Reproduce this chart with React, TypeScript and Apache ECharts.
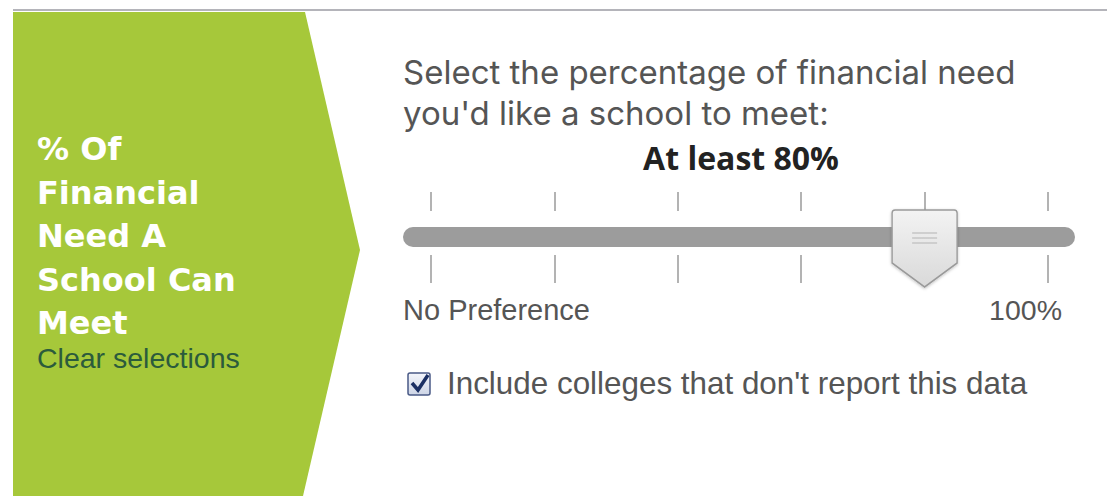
import React, { useEffect, useRef } from "react";
import * as echarts from "echarts";

const headingLines = ["% Of", "Financial", "Need A", "School Can", "Meet"];
const clearLabel = "Clear selections";
const promptLines = ["Select the percentage of financial need", "you'd like a school to meet:"];
const selectedLabel = "At least 80%";
const tickValues = [0, 20, 40, 60, 80, 100];
const selectedValue = 80;
const endLabels = ["No Preference", "100%"];
const checkboxLabel = "Include colleges that don't report this data";

const HANDLE_PATH =
  "path://M3,0 H62 Q65,0 65,3 V53 L32.5,77 L0,53 V3 Q0,0 3,0 Z";
const GRIP_PATH = "path://M0,0H25V1.6H0Z M0,5H25V6.6H0Z M0,10H25V11.6H0Z";

export default function App() {
  const ref = useRef<HTMLDivElement>(null);
  useEffect(() => {
    if (!ref.current) return;
    const chart = echarts.init(ref.current, undefined, { renderer: "svg" });
    const helv = "'Liberation Sans', Arial, sans-serif";
    const museo = "'Open Sans', sans-serif";
    const prompt = "Inter, 'Open Sans', sans-serif";
    const heavy = "'DejaVu Sans', sans-serif";
    const graphics: any[] = [
      {
        type: "line",
        shape: { x1: 13, y1: 10, x2: 1107, y2: 10 },
        style: { stroke: "#b4b4ba", lineWidth: 2 },
        z: 0,
      },
      {
        type: "polygon",
        shape: { points: [[13, 12], [305, 12], [360, 250], [303, 496], [13, 496]] },
        style: { fill: "#a6c83a" },
        z: 1,
      },
      ...headingLines.map((t, i) => ({
        type: "text",
        x: 37,
        y: 149 + i * 43.5,
        style: {
          text: t,
          fill: "#ffffff",
          font: `bold 32px ${heavy}`,
          lineHeight: 36,
          verticalAlign: "middle",
          align: "left",
        },
        z: 2,
      })),
      {
        type: "text",
        x: 37,
        y: 358,
        style: { text: clearLabel, fill: "#2b5b3c", font: `28.5px ${helv}`, verticalAlign: "middle" },
        z: 2,
      },
      ...promptLines.map((t, i) => ({
        type: "text",
        x: 403,
        y: 72 + i * 41,
        style: {
          text: t,
          fill: "#555555",
          font: `33px ${prompt}`,
          lineHeight: 36,
          verticalAlign: "middle",
        },
        z: 2,
      })),
      {
        type: "text",
        x: 741,
        y: 157,
        style: {
          text: selectedLabel,
          fill: "#222222",
          font: `bold 32px ${museo}`,
          lineHeight: 34,
          align: "center",
          verticalAlign: "middle",
        },
        z: 2,
      },
      {
        type: "rect",
        shape: { x: 403, y: 227, width: 672, height: 20, r: 10 },
        style: { fill: "#9c9c9c" },
        z: 0,
      },
      {
        type: "text",
        x: 403,
        y: 310,
        style: { text: endLabels[0], fill: "#555555", font: `29px ${helv}`, verticalAlign: "middle" },
        z: 2,
      },
      {
        type: "text",
        x: 1062,
        y: 310,
        style: {
          text: endLabels[1],
          fill: "#555555",
          font: `28.5px ${helv}`,
          align: "right",
          verticalAlign: "middle",
        },
        z: 2,
      },
      {
        type: "rect",
        shape: { x: 408, y: 373, width: 22, height: 22, r: 2 },
        style: {
          fill: new echarts.graphic.LinearGradient(0, 0, 0, 1, [
            { offset: 0, color: "#f4f6fb" },
            { offset: 1, color: "#cdd5e6" },
          ]),
          stroke: "#4a5a86",
          lineWidth: 1.5,
        },
        z: 2,
      },
      {
        type: "polyline",
        shape: { points: [[412, 383], [418, 390], [428, 375]] },
        style: { stroke: "#1b2f63", lineWidth: 3.5, fill: null },
        z: 3,
      },
      {
        type: "text",
        x: 447,
        y: 383,
        style: { text: checkboxLabel, fill: "#555555", font: `31.4px ${helv}`, verticalAlign: "middle" },
        z: 2,
      },
    ];

    const axisBase = {
      type: "value" as const,
      min: 0,
      max: 100,
      interval: 20,
      axisLine: { show: false, onZero: false },
      axisLabel: { show: false },
      splitLine: { show: false },
      z: 1,
    };

    chart.setOption({
      animation: false,
      grid: { left: 431, right: 59, top: 211, bottom: 241 },
      xAxis: [
        {
          ...axisBase,
          position: "top",
          axisTick: { show: true, length: 19, lineStyle: { color: "#9a9a9a", width: 1.5 } },
        },
        {
          ...axisBase,
          position: "bottom",
          axisTick: { show: true, length: 28, lineStyle: { color: "#9a9a9a", width: 1.5 } },
        },
      ],
      yAxis: { type: "value", min: 0, max: 1, show: false },
      graphic: graphics,
      series: [
        {
          type: "scatter",
          xAxisIndex: 0,
          data: [[selectedValue, 0.5]],
          symbol: HANDLE_PATH,
          symbolSize: [65, 77],
          symbolOffset: [0, 15.5],
          itemStyle: {
            color: new echarts.graphic.LinearGradient(0, 0, 0, 1, [
              { offset: 0, color: "#f3f3f3" },
              { offset: 1, color: "#d9d9d9" },
            ]),
            opacity: 1,
            borderColor: "#9a9a9a",
            borderWidth: 1.5,
            shadowBlur: 3,
            shadowColor: "rgba(0,0,0,0.25)",
            shadowOffsetY: 1,
          },
          zlevel: 1,
          z: 10,
          silent: true,
        },
        {
          type: "scatter",
          xAxisIndex: 0,
          data: [[selectedValue, 0.5]],
          symbol: GRIP_PATH,
          symbolSize: [25, 11.6],
          symbolOffset: [0, 5],
          itemStyle: { color: "#bdbdbd" },
          zlevel: 1,
          z: 11,
          silent: true,
        },
      ],
    });
    (window as any).tickValues = tickValues;
    return () => chart.dispose();
  }, []);
  return (
    <div
      ref={ref}
      style={{ position: "absolute", left: 0, top: 0, width: 1107, height: 496, background: "#fff" }}
    />
  );
}
